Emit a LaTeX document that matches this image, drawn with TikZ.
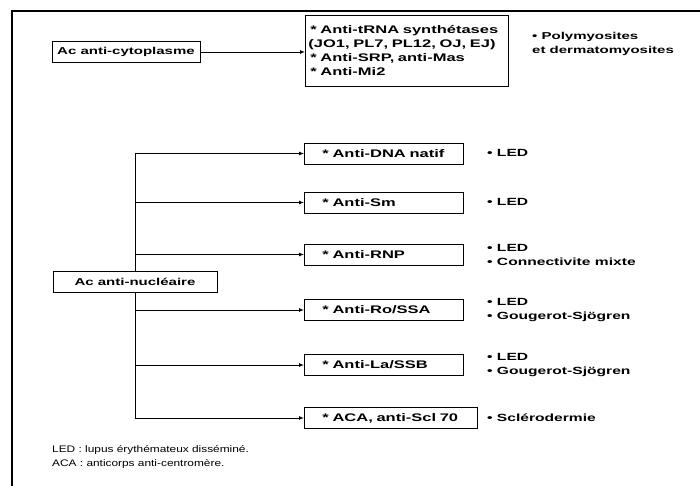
\documentclass[tikz,border=0pt]{standalone}
\usepackage{fontspec}
\setmainfont{Liberation Sans}[FakeStretch=1.5]
\newfontfamily\legendfont{Liberation Sans}[FakeStretch=1.25]
\usepackage{tikz}
\usetikzlibrary{arrows.meta,positioning}

\begin{document}
\begin{tikzpicture}[x=1pt,y=-1pt,every node/.style={font=\fontsize{11pt}{14pt}\selectfont\bfseries,align=left},box/.style={draw,line width=0.9pt,anchor=west,minimum height=21pt,inner xsep=18pt,text width=123pt},head/.style={draw,line width=0.9pt,minimum height=21pt,inner xsep=2pt,align=center,font=\fontsize{10pt}{14pt}\selectfont\bfseries},note/.style={anchor=west,inner sep=0pt,font=\fontsize{10.4pt}{14pt}\selectfont\bfseries},arrow/.style={-{Latex[length=5pt,width=4pt]},line width=0.9pt}]
\useasboundingbox (0,0) rectangle (700,486);
\draw[line width=2pt] (12,490) -- (12,11) -- (705,11);
% anticorps anti-cytoplasme
\node[head,minimum width=148pt] (cyto) at (126,52) {Ac anti-cytoplasme};
\node[box,text width=197pt,inner xsep=3pt,minimum height=71pt] (trna) at (305,50.5) {\,* Anti-tRNA synth\'etases\\(JO1, PL7, PL12, OJ, EJ)\\\,* Anti-SRP, anti-Mas\\\,* Anti-Mi2};
\node[note,font=\fontsize{10pt}{14pt}\selectfont\bfseries] (myo) at (532,44) {\textbullet\ Polymyosites\\et dermatomyosites};
\draw[arrow] (cyto.east) -- (cyto.east -| trna.west);
% anticorps anti-nucleaire
\node[head,minimum width=164pt] (nuc) at (135,281.5) {Ac anti-nucl\'eaire};
\node[box] (dna) at (304,153.5) {* Anti-DNA natif};
\node[box] (sm) at (304,202.5) {* Anti-Sm};
\node[box] (rnp) at (304,254.5) {* Anti-RNP};
\node[box] (ro) at (304,310) {* Anti-Ro/SSA};
\node[box] (la) at (304,365) {* Anti-La/SSB};
\node[box,text width=137pt] (aca) at (304,418) {* ACA, anti-Scl 70};
\foreach \b in {dna,sm,rnp,ro,la,aca}
  \draw[arrow] (nuc) |- (\b);
\node[note] at (487,153) {\textbullet\ LED};
\node[note] at (487,202) {\textbullet\ LED};
\node[note] at (487,255) {\textbullet\ LED\\\textbullet\ Connectivite mixte};
\node[note] at (487,310) {\textbullet\ LED\\\textbullet\ Gougerot-Sj\"ogren};
\node[note] at (487,365) {\textbullet\ LED\\\textbullet\ Gougerot-Sj\"ogren};
\node[note] at (487,418) {\textbullet\ Scl\'erodermie};
% legende
\node[note,font=\legendfont\fontsize{9.5pt}{14pt}\selectfont] (leg) at (52,457) {LED : lupus \'erythémateux diss\'emin\'e.\\ACA : anticorps anti-centrom\`ere.};
\end{tikzpicture}
\end{document}
